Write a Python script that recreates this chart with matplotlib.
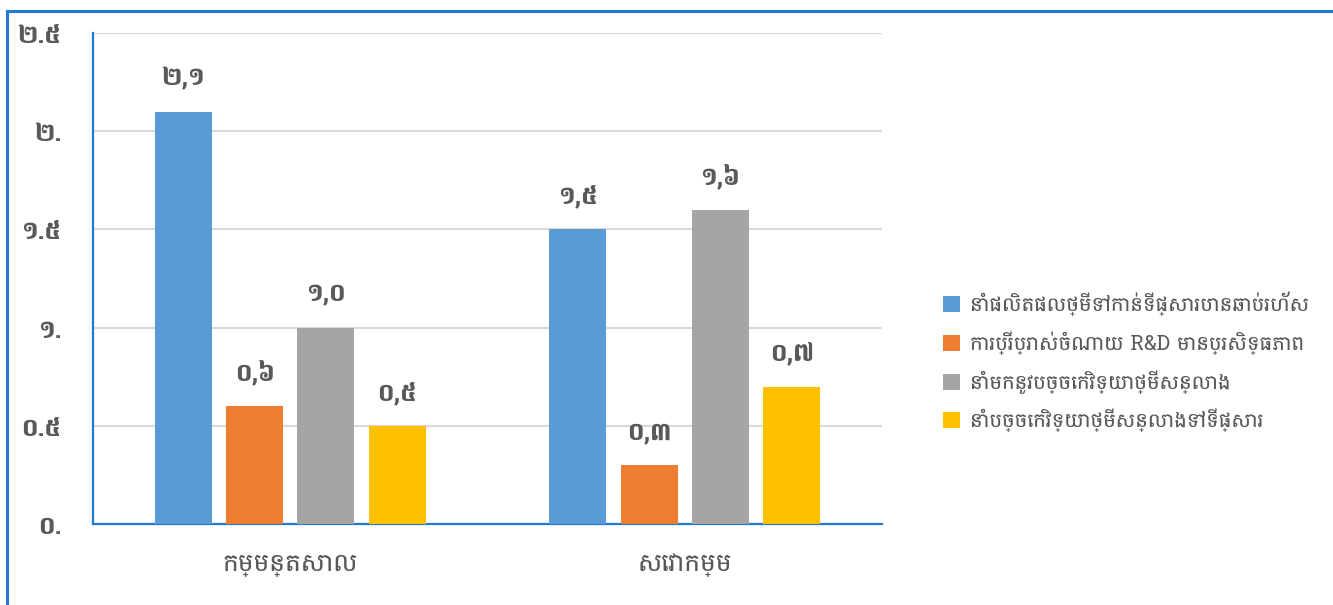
import matplotlib
matplotlib.use("Agg")
import matplotlib.pyplot as plt
from matplotlib import font_manager as fm
from matplotlib.lines import Line2D
from matplotlib.patches import Patch
import numpy as np

# ---------------- data ----------------
categories = ['កម្មន្តសាល', 'សេវាកម្ម']
series_names = [
    'នាំផលិតផលថ្មីទៅកាន់ទីផ្សារបានឆាប់រហ័ស',
    'ការប្រើប្រាស់ចំណាយ R&D មានប្រសិទ្ធភាព',
    'នាំមកនូវបច្ចេកវិទ្យាថ្មីសន្លាង',
    'នាំបច្ចេកវិទ្យាថ្មីសន្លាងទៅទីផ្សារ',
]
industry_values = [2.1, 0.6, 1.0, 0.5]
services_values = [1.5, 0.3, 1.6, 0.7]
ytick_values = [0.0, 0.5, 1.0, 1.5, 2.0, 2.5]
ytick_labels = ['០.', '០.៥', '១.', '១.៥', '២.', '២.៥']
colors = ['#5B9BD5', '#ED7D31', '#A5A5A5', '#FFC000']

# ---------------- fonts ----------------
def find_khmer_family():
    try:
        from fontTools.ttLib import TTFont
    except Exception:
        return None
    best = None
    for fe in fm.fontManager.ttflist:
        try:
            f = TTFont(fe.fname, fontNumber=0, lazy=True)
            cmap = f.getBestCmap()
            if cmap and 0x1780 in cmap and 0x17E0 in cmap:
                if best is None or 'bold' in fe.fname.lower():
                    best = fe.name
        except Exception:
            continue
    return best

kh = find_khmer_family()
fams = ([kh] if kh else []) + ['DejaVu Sans']
plt.rcParams['font.family'] = fams

KH_DIG = str.maketrans('0123456789', '០១២៣៤៥៦៧៨៩')
def kh_label(v):
    return f'{v:.1f}'.replace('.', ',').translate(KH_DIG)

text_color = '#595959'
spine_blue = '#2478CF'

# ---------------- figure ----------------
fig = plt.figure(figsize=(13.33, 6.05), dpi=100)
ax = fig.add_axes([93/1333, 1-524/605, (882-93)/1333, (524-33)/605])

data = np.array([industry_values, services_values])  # rows: categories
x = np.arange(len(categories))
bw = 0.1445
step = 0.181
n = len(series_names)
for i in range(n):
    xs = x + (i - (n-1)/2) * step
    ax.bar(xs, data[:, i], width=bw, color=colors[i], zorder=3,
           label=series_names[i])
    for xi, v in zip(xs, data[:, i]):
        ax.annotate(kh_label(v), (xi, v), xytext=(0, 15), textcoords='offset points',
                    ha='center', va='bottom', fontsize=19, fontweight='bold',
                    color=text_color)

ax.set_xlim(-0.5, 1.5)
ax.set_ylim(0, 2.5)
ax.set_yticks(ytick_values)
ax.set_yticklabels(ytick_labels)
ax.set_xticks(x)
ax.set_xticklabels(categories)
ax.tick_params(axis='y', length=0, pad=23, labelsize=19, labelcolor=text_color)
ax.tick_params(axis='x', length=0, pad=20, labelsize=18, labelcolor=text_color)
for lab in ax.get_yticklabels():
    lab.set_fontweight('bold')
ax.grid(axis='y', color='#D9D9D9', linewidth=1.5, zorder=0)
ax.set_axisbelow(True)
for s in ['top', 'right']:
    ax.spines[s].set_visible(False)
for s in ['left', 'bottom']:
    ax.spines[s].set_color(spine_blue)
    ax.spines[s].set_linewidth(1.6)

# legend
handles = [Patch(facecolor=c, edgecolor='none') for c in colors]
fig.legend(handles, series_names, loc='center left',
           bbox_to_anchor=(935/1333, 1-362/605), frameon=False,
           fontsize=14.5, labelcolor=text_color, handlelength=0.85, handleheight=0.85,
           handletextpad=0.5, labelspacing=0.75, borderaxespad=0)

# outer frame (top and left blue lines)
fig.add_artist(Line2D([7/1333, 1.0], [1-11/605, 1-11/605], transform=fig.transFigure,
                      color=spine_blue, linewidth=2.2))
fig.add_artist(Line2D([7/1333, 7/1333], [0, 1-11/605], transform=fig.transFigure,
                      color=spine_blue, linewidth=2.2))

fig.savefig('out.png', dpi=100)
